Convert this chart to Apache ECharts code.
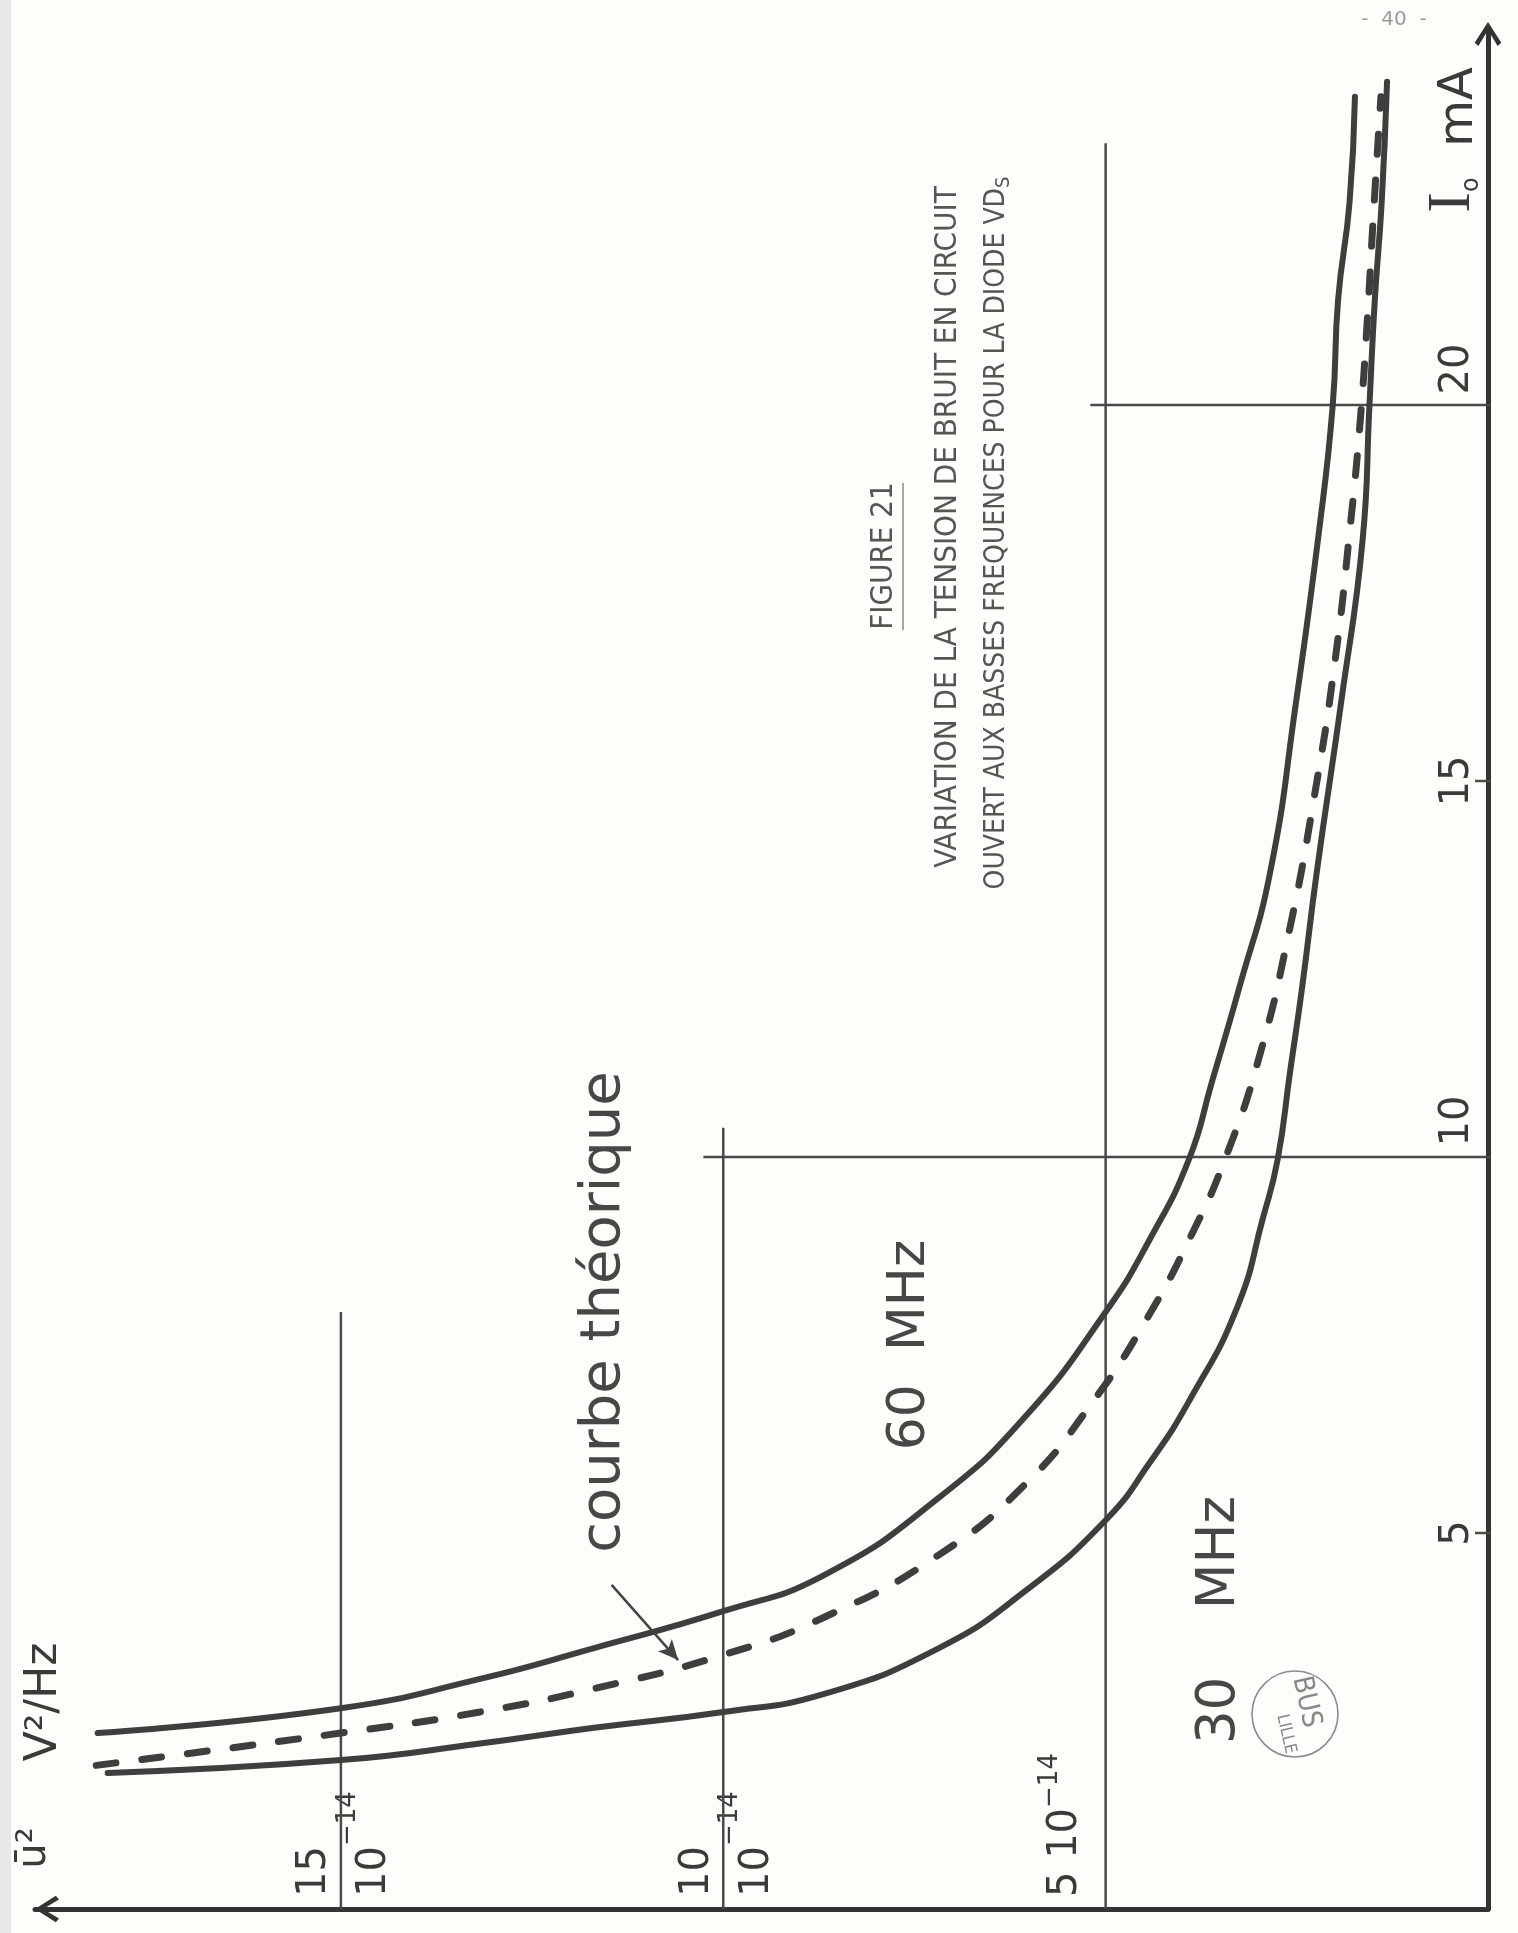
<!DOCTYPE html>
<html>
<head>
<meta charset="utf-8">
<script src="https://cdn.jsdelivr.net/npm/echarts@6/dist/echarts.min.js"></script>
<style>
html,body{margin:0;padding:0;background:#fdfdfa;}
#chart{width:1518px;height:1933px;}
</style>
</head>
<body>
<div id="chart"></div>
<script>
// ---------------- DATA ----------------
// points are [u² (x 1e-14 V²/Hz), I0 (mA)]
const curve60MHz = [
  [18.18,2.34],[15.0,2.67],[13.18,3.06],[11.69,3.47],[10.0,3.96],[8.68,4.44],
  [7.18,5.47],[6.05,6.55],[5.0,7.94],[4.42,8.91],[3.91,9.97],[3.61,11.0],
  [3.25,12.26],[2.85,13.78],[2.51,16.05],[2.21,18.32],[2.03,20.0],[1.96,21.4],
  [1.81,22.7],[1.74,24.1]
];
const curve30MHz = [
  [18.05,1.81],[15.0,1.98],[13.18,2.2],[11.69,2.41],[10.0,2.62],[8.68,2.86],
  [7.18,3.47],[6.05,4.23],[5.0,5.17],[4.42,5.94],[3.90,6.77],[3.28,8.0],
  [2.94,9.2],[2.75,9.97],[2.59,11.12],[2.43,12.26],[2.24,13.78],[1.92,16.05],
  [1.64,18.2],[1.55,20.0],[1.48,21.4],[1.39,22.7],[1.32,24.3]
];
const courbeTheorique = [
  [18.2,1.91],[15.0,2.34],[13.18,2.62],[11.69,2.93],[10.0,3.38],[8.68,3.88],
  [7.18,4.71],[6.05,5.65],[5.2,6.7],[4.46,7.85],[3.86,9.0],[3.44,9.97],
  [3.0,11.3],[2.6,13.0],[2.27,14.8],[2.0,16.6],[1.8,18.4],[1.67,19.8],
  [1.58,21.1],[1.5,22.5],[1.4,24.1]
];
// hand-drawn reference lines (value units)
const gridSegments = [
  [[5,0],[5,23.48]],
  [[10,0],[10,10.39]],
  [[15,0],[15,7.94]],
  [[10.26,10],[-0.22,10]],
  [[5.2,20],[-0.13,20]],
  [[0.17,5],[-0.17,5]],
  [[0.17,15],[-0.17,15]]
];
const theoArrow = [[11.46,4.31],[10.59,3.31]];
const uTickValues = [5, 10, 15];
const uExponent = '\u221214';
const iTickValues = [5, 10, 15, 20];

// ---------------- CHART ----------------
const chevron = 'path://M50,0 L100,78 L86,90 L50,30 L14,90 L0,78 Z';
const ink = '#3e3e3e';
const sans = '"DejaVu Sans", "Liberation Sans", sans-serif';
const narrow = '"DejaVu Sans Condensed", "Liberation Sans Narrow", "DejaVu Sans", sans-serif';

const chart = echarts.init(document.getElementById('chart'), null, {renderer: 'canvas'});

const gridSeries = gridSegments.map(function (seg, i) {
  return {
    type: 'line', name: 'grid' + i, data: seg, showSymbol: false, clip: false,
    silent: true, z: 1,
    lineStyle: {color: '#4a4a4a', width: 2.5}
  };
});

const option = {
  backgroundColor: '#fdfdfa',
  animation: false,
  grid: {left: 35, right: 30, top: 29, bottom: 24, containLabel: false},
  xAxis: {
    type: 'value', inverse: true, min: 0, max: 19, interval: 5,
    position: 'bottom',
    axisLine: {onZero: false, lineStyle: {color: '#333', width: 5},
      symbol: [chevron, 'none'], symbolSize: [34, 24], symbolOffset: [12, 0]},
    axisTick: {show: false},
    splitLine: {show: false},
    axisLabel: {
      inside: true, rotate: 90, margin: 12, showMaxLabel: false,
      color: '#3a3a3a', fontFamily: sans,
      formatter: function (v) {
        if (uTickValues.indexOf(v) < 0) return '';
        if (v === 5) return '{a|5 10}{s|' + uExponent + '}\n{g| }';
        return '{a|' + v + '}\n{b|10}{s|' + uExponent + '}';
      },
      rich: {
        a: {fontSize: 40, lineHeight: 48, verticalAlign: 'bottom', fontFamily: sans, color: '#3a3a3a'},
        b: {fontSize: 40, lineHeight: 60, verticalAlign: 'bottom', fontFamily: sans, color: '#3a3a3a'},
        s: {fontSize: 26, lineHeight: 26, verticalAlign: 'top', fontFamily: sans, color: '#3a3a3a'},
        g: {fontSize: 10, lineHeight: 88}
      }
    }
  },
  yAxis: {
    type: 'value', min: 0, max: 25, interval: 5,
    position: 'right',
    axisLine: {onZero: false, lineStyle: {color: '#333', width: 5},
      symbol: ['none', chevron], symbolSize: [34, 24], symbolOffset: [0, -5]},
    axisTick: {show: false},
    splitLine: {show: false},
    axisLabel: {
      inside: true, rotate: 90, margin: 10, color: '#3a3a3a', fontFamily: sans, fontSize: 40,
      formatter: function (v) {
        if (iTickValues.indexOf(v) < 0) return '';
        return (v % 10 === 0) ? '{u|' + v + '}' : '{n|' + v + '}';
      },
      rich: {
        u: {fontSize: 40, padding: [0, 0, 0, 72], fontFamily: sans, color: '#3a3a3a'},
        n: {fontSize: 40, fontFamily: sans, color: '#3a3a3a'}
      }
    }
  },
  series: gridSeries.concat([
    {
      type: 'line', name: '60 MHz', data: curve60MHz, showSymbol: false, smooth: 0.5,
      z: 3, lineStyle: {color: ink, width: 6, cap: 'round', join: 'round'}
    },
    {
      type: 'line', name: '30 MHz', data: curve30MHz, showSymbol: false, smooth: 0.5,
      z: 3, lineStyle: {color: ink, width: 6, cap: 'round', join: 'round'}
    },
    {
      type: 'line', name: 'courbe théorique', data: courbeTheorique, showSymbol: false, smooth: 0.5,
      z: 3, lineStyle: {color: ink, width: 7, type: [20, 26], cap: 'round'},
      markLine: {
        silent: true, symbol: ['none', 'arrow'], symbolSize: [14, 20],
        label: {show: false},
        lineStyle: {color: '#444', width: 2.5, type: 'solid'},
        data: [[{coord: theoArrow[0]}, {coord: theoArrow[1]}]]
      }
    }
  ]),
  graphic: [
    {type: 'rect', silent: true, shape: {x: 0, y: 0, width: 11, height: 1933}, style: {fill: '#e8e8e6'}},
    {type: 'text', x: 1394, y: 20, style: {text: '-  40  -', fontSize: 20, fontFamily: sans, fill: '#9a9a9a', align: 'center', verticalAlign: 'middle'}},
    // title block
    {type: 'text', x: 884, y: 556, rotation: Math.PI / 2,
      style: {text: 'FIGURE 21', fontSize: 31, fontFamily: narrow, fill: '#555', align: 'center', verticalAlign: 'middle'}},
    {type: 'line', silent: true, shape: {x1: 903, y1: 483, x2: 903, y2: 630}, style: {stroke: '#8a8a8a', lineWidth: 1.5}},
    {type: 'text', x: 948, y: 527, rotation: Math.PI / 2,
      style: {text: 'VARIATION DE LA TENSION DE BRUIT EN CIRCUIT', fontSize: 31, fontFamily: narrow, fill: '#555', align: 'center', verticalAlign: 'middle'}},
    {type: 'text', x: 997, y: 533, rotation: Math.PI / 2,
      style: {text: 'OUVERT AUX BASSES FREQUENCES POUR LA DIODE VD{sub|S}', fontSize: 28, fontFamily: narrow, fill: '#555', align: 'center', verticalAlign: 'middle',
        rich: {sub: {fontSize: 20, fontFamily: narrow, fill: '#555', verticalAlign: 'bottom', lineHeight: 34}}}},
    // annotations
    {type: 'text', x: 604, y: 1312, rotation: Math.PI / 2,
      style: {text: 'courbe théorique', fontSize: 56, fontFamily: sans, fill: '#474747', align: 'center', verticalAlign: 'middle'}},
    {type: 'text', x: 910, y: 1345, rotation: Math.PI / 2,
      style: {text: '60  MHz', fontSize: 52, fontFamily: sans, fill: '#474747', align: 'center', verticalAlign: 'middle'}},
    {type: 'text', x: 1220, y: 1620, rotation: Math.PI / 2,
      style: {text: '30    MHz', fontSize: 53, fontFamily: sans, fill: '#474747', align: 'center', verticalAlign: 'middle'}},
    // axis names
    {type: 'text', x: 45, y: 1702, rotation: Math.PI / 2,
      style: {text: 'V²/Hz', fontSize: 44, fontFamily: sans, fill: '#3a3a3a', align: 'center', verticalAlign: 'middle'}},
    {type: 'text', x: 35, y: 1848, rotation: Math.PI / 2,
      style: {text: 'ū²', fontSize: 40, fontFamily: sans, fill: '#3a3a3a', align: 'center', verticalAlign: 'middle'}},
    {type: 'text', x: 1452, y: 140, rotation: Math.PI / 2,
      style: {text: '{i|I}{o|o}{m|  mA}', align: 'center', verticalAlign: 'middle',
        rich: {
          i: {fontSize: 62, fontFamily: '"Liberation Serif", "DejaVu Serif", serif', fill: '#3a3a3a', verticalAlign: 'bottom', lineHeight: 64},
          o: {fontSize: 24, fontFamily: sans, fill: '#3a3a3a', verticalAlign: 'bottom', lineHeight: 24},
          m: {fontSize: 48, fontFamily: sans, fill: '#3a3a3a', verticalAlign: 'bottom', lineHeight: 56}
        }}},
    // library stamp
    {type: 'circle', silent: true, shape: {cx: 1295, cy: 1714, r: 43}, style: {fill: 'none', stroke: '#8c8c8c', lineWidth: 1.6}},
    {type: 'text', x: 1306, y: 1702, rotation: -1.35,
      style: {text: 'BUS', fontSize: 28, fontFamily: narrow, fill: '#888', align: 'center', verticalAlign: 'middle'}},
    {type: 'text', x: 1286, y: 1734, rotation: -1.35,
      style: {text: 'LILLE', fontSize: 17, fontFamily: narrow, fill: '#888', align: 'center', verticalAlign: 'middle'}}
  ]
};
chart.setOption(option);
</script>
</body>
</html>
